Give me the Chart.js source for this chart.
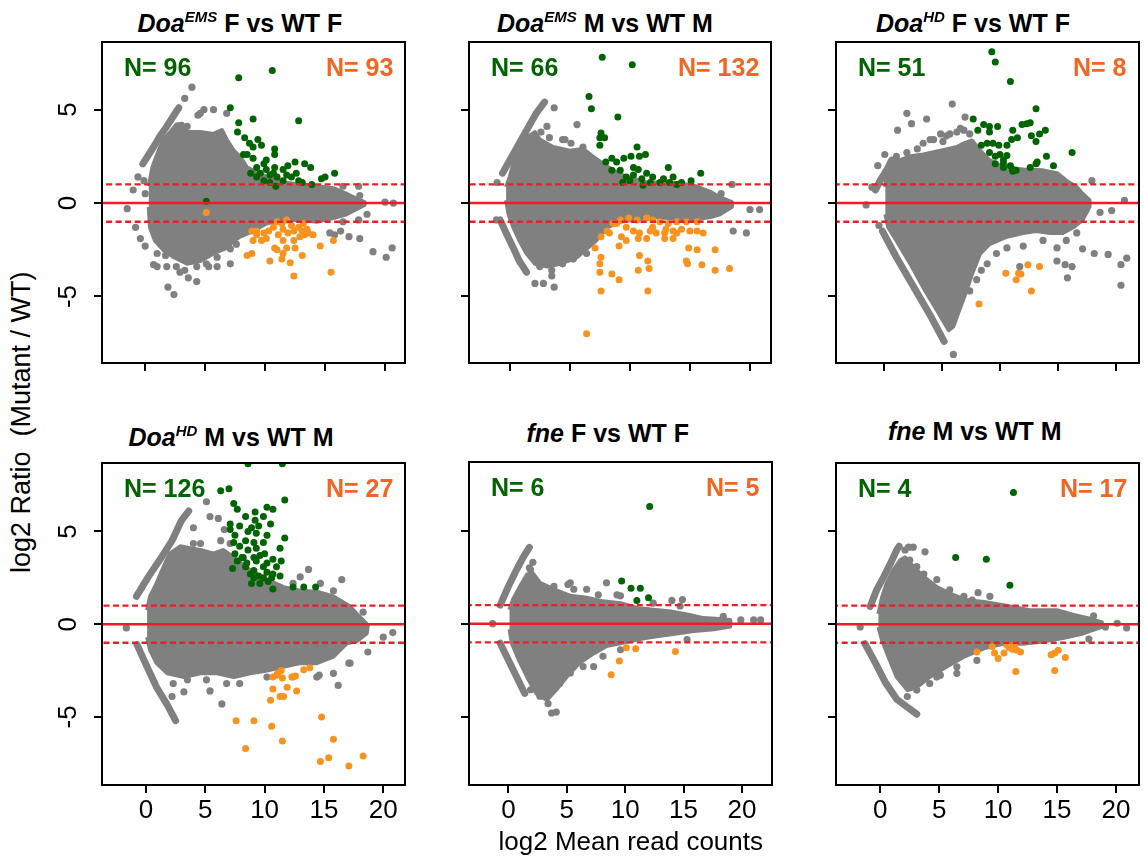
<!DOCTYPE html>
<html>
<head>
<meta charset="utf-8">
<script src="https://cdn.jsdelivr.net/npm/chart.js@4.4.1/dist/chart.umd.min.js"></script>
<style>
  body { margin: 0; background: #fff; width: 1144px; height: 858px; position: relative; overflow: hidden;
         font-family: "Liberation Sans", Arial, Helvetica, sans-serif; }
  .panel { position: absolute; }
  .ttl { position: absolute; font-weight: bold; font-size: 25px; line-height: 25px; white-space: nowrap; color: #000; }
  .ttl .sup { font-size: 15px; position: relative; top: -10px; font-style: italic; }
  .nlab { position: absolute; font-weight: bold; font-size: 25px; line-height: 25px; white-space: nowrap; }
  .axt { position: absolute; font-size: 26px; line-height: 26px; white-space: nowrap; color: #000; }
</style>
</head>
<body>
<script>
// ---- data ----
const xTicks = [0, 5, 10, 15, 20];
const yTicks = [-5, 0, 5];
const cutLines = [-1, 0, 1];
const genes = ['Doa', 'Doa', 'Doa', 'Doa', 'fne', 'fne'];
const alleles = ['EMS', 'EMS', 'HD', 'HD', '', ''];
const comparisons = ['F vs WT F', 'M vs WT M', 'F vs WT F', 'M vs WT M', 'F vs WT F', 'M vs WT M'];
const nUp = [96, 66, 51, 126, 6, 4];
const nDown = [93, 132, 8, 27, 5, 17];

// panel 1
const p1Top = [[0.3,0.9],[0.6,1.9],[1.0,2.6],[1.5,3.4],[2.1,3.8],[2.6,4.2],[3.1,4.25],[3.5,3.8],[4.6,3.8],[5.7,3.7],[6.4,3.9],[6.8,3.4],[7.4,2.8],[7.9,2.5],[8.5,1.9],[10.1,1.4],[11.5,1.1],[12.9,1.0],[14.3,0.9],[15.7,0.8],[16.8,0.5],[17.4,0.3],[18.3,0.05]];
const p1Bottom = [[18.3,-0.1],[16.8,-0.6],[15.7,-0.8],[14.3,-1.0],[12.9,-0.9],[11.5,-0.9],[10.1,-1.1],[9.0,-1.5],[7.9,-1.8],[7.4,-2.0],[6.8,-2.4],[5.7,-2.7],[4.6,-3.1],[3.5,-3.25],[2.4,-2.9],[1.5,-2.5],[0.8,-2.0],[0.4,-1.3],[0.3,-0.2]];
const p1StreakA = [[-0.2,2.1],[0.7,3.0],[1.25,3.6],[1.8,4.1],[2.4,4.7],[2.8,5.1]];
const p1StreakB = [];
const p1Gray = [[3.3,5.6],[3.9,6.2],[4.4,4.7],[4.9,5.0],[5.7,5.0],[6.8,4.8],[5.7,3.2],[-1.5,-0.3],[-0.8,-1.3],[-0.4,-1.9],[0,-2.3],[0.7,-3.3],[1.0,-3.4],[1.8,-3.4],[1.9,-4.5],[2.4,-4.9],[2.9,-3.7],[3.6,-4.0],[4.3,-4.2],[5.3,-3.4],[6.0,-3.4],[7.1,-3.25],[17.8,0.9],[17.9,0.4],[18.5,-0.6],[19.0,-2.6],[20.0,0.05],[20.7,0.0],[20.1,-2.9],[20.6,-2.4],[17.0,-1.8],[17.9,-1.9],[15.8,-1.7],[16.5,-1.0],[-1.0,0.7],[-0.6,1.4],[-0.1,1.2],[0,0.5],
  [4.6,4.8],[3.5,4.1],[4.2,3.5],[1.0,-2.7],[1.7,-2.8],[2.6,-3.4],[3.3,-3.6],[4.3,-3.4],[5.1,-3.25],[6.0,-2.9],[7.1,-2.45],[7.6,-2.2],[16.5,0.9],[17.1,0.1],[16.3,-1.5],[17.8,-0.9],[15.4,-1.6]];
const p1Green = [[7.8,6.7],[10.6,7.1],[7.1,5.1],[7.8,4.3],[9.0,4.5],[12.8,4.4],[7.7,3.8],[8.3,3.5],[8.7,3.2],[9.4,3.4],[9.7,3.1],[10.8,2.9],[10.8,2.6],[8.5,2.6],[8.2,2.6],[9.0,2.4],[9.9,2.1],[9.3,1.9],[10.1,1.8],[10.8,1.9],[11.5,1.8],[11.9,2.0],[12.5,2.2],[13.3,2.1],[13.8,1.9],[8.8,1.6],[9.6,1.6],[10.4,1.5],[11.0,1.4],[11.5,1.2],[12.2,1.4],[12.8,1.2],[13.1,1.1],[13.9,1.0],[14.7,1.3],[15.0,1.4],[15.8,1.6],[10.4,1.1],[10.9,0.9],[9.9,1.2],[9.3,1.4],[5.1,0.1],[10.1,2.3],[9.0,3.0],[10.7,1.6],[11.8,1.5],[12.6,1.6]];
const p1Orange = [[5.1,-0.5],[8.9,-1.5],[9.3,-1.7],[9.9,-1.6],[10.3,-1.5],[11.0,-1.0],[11.4,-1.1],[11.8,-0.9],[12.2,-1.2],[12.8,-1.3],[13.2,-1.1],[13.5,-1.4],[13.6,-1.6],[9.0,-2.0],[9.7,-2.0],[10.1,-1.9],[11.1,-1.7],[11.5,-2.0],[12.4,-2.0],[12.9,-1.8],[13.3,-1.7],[14.0,-1.7],[10.8,-2.4],[11.0,-2.5],[11.5,-2.7],[11.8,-2.4],[12.5,-2.4],[8.5,-2.8],[8.9,-2.7],[10.4,-3.1],[11.4,-3.0],[12.1,-3.2],[13.1,-2.8],[14.6,-2.3],[15.7,-2.0],[12.4,-3.9],[15.5,-3.7],[9.3,-1.5],[12.4,-1.5],[13.1,-1.5],[10.7,-1.3],[11.5,-1.4],[11.9,-1.6]];

// panel 2
const p2Top = [[-0.3,0.85],[0,1.4],[0.4,2.3],[0.8,3.0],[1.4,3.5],[2.1,3.8],[2.5,3.4],[3.6,3.0],[5.0,2.8],[6.1,2.9],[6.9,2.5],[7.8,2.1],[8.6,1.75],[9.7,1.4],[11.4,1.1],[13.3,1.1],[15.3,0.95],[16.7,0.6],[17.5,0.3],[18.5,0.05]];
const p2Bottom = [[18.5,-0.2],[17.5,-0.6],[16.7,-0.75],[15.3,-0.9],[11.9,-0.75],[9.2,-1.0],[8.1,-1.3],[7.2,-2.0],[6.4,-2.45],[5.6,-2.9],[4.2,-3.25],[3.1,-3.4],[2.1,-3.25],[1.4,-2.7],[0.8,-2.0],[0.3,-1.3],[-0.1,-0.6],[-0.3,0.15]];
const p2StreakA = [[-0.6,1.6],[0.1,2.4],[0.8,3.2],[1.5,4.0],[2.2,4.8],[2.9,5.4]];
const p2StreakB = [[-0.8,-0.9],[-0.3,-1.6],[0.3,-2.4],[0.8,-3.1],[1.4,-3.7]];
const p2Gray = [[5.6,4.2],[4.6,3.4],[6.1,3.0],[3.1,4.1],[3.7,5.1],[2.1,-4.3],[2.8,-4.3],[3.5,-3.9],[3.7,-4.5],[4.9,-3.0],[18.6,-1.5],[19.7,-1.6],[20.0,-0.35],[20.8,-0.35],[18.5,1.0],[17.6,0.5],[-1.05,1.1],[-1.1,-0.9],
  [2.5,-3.4],[3.5,-3.6],[4.4,-3.25],[5.3,-3.0],[6.4,-2.7],[4.4,3.4],[5.1,3.2],[6.4,2.6],[16.9,0.3],[2.6,3.8],[3.3,3.5]];
const p2Green = [[7.7,7.8],[10.2,7.4],[6.6,5.7],[6.8,5.05],[9.0,4.6],[7.6,3.75],[7.5,3.5],[7.9,3.5],[7.5,3.1],[10.6,3.0],[8.5,2.4],[9.5,2.4],[10.1,2.5],[10.8,2.5],[11.3,2.6],[8.0,2.2],[8.9,2.2],[10.3,1.9],[8.5,1.75],[9.2,1.75],[10.7,1.8],[11.4,1.6],[13.2,1.9],[15.9,1.6],[9.7,1.4],[10.3,1.5],[11.9,1.4],[12.8,1.3],[13.6,1.4],[14.3,1.1],[15.1,1.2],[11.1,0.95],[11.7,1.1],[12.5,1.1],[13.3,1.1],[13.9,1.0],[9.4,1.1],[10.0,1.2],[11.0,1.3]];
const p2Orange = [[8.6,-1.1],[9.2,-0.9],[9.9,-0.8],[10.6,-0.9],[11.4,-0.8],[11.9,-0.9],[12.5,-1.0],[13.2,-1.1],[13.9,-1.0],[14.7,-1.0],[15.6,-1.0],[8.1,-1.5],[7.6,-1.8],[7.1,-2.4],[8.3,-1.6],[9.3,-1.8],[10.3,-1.5],[10.8,-1.6],[11.7,-1.5],[12.2,-1.6],[12.9,-1.6],[13.6,-1.5],[14.3,-1.4],[15.0,-1.5],[15.6,-1.5],[16.1,-1.6],[9.7,-2.0],[10.7,-1.9],[11.4,-1.9],[12.9,-1.9],[13.6,-1.9],[9.1,-2.3],[14.9,-2.4],[15.6,-2.5],[17.1,-2.5],[7.6,-2.9],[10.8,-2.8],[7.5,-3.25],[11.5,-3.1],[11.6,-3.5],[14.7,-3.1],[14.8,-3.25],[16.0,-3.3],[7.5,-3.7],[8.5,-3.8],[9.1,-4.1],[10.7,-3.6],[17.1,-3.6],[18.3,-3.5],[7.6,-4.7],[11.5,-4.7],[6.4,-7.0],[8.9,-1.1],[9.7,-1.3],[11.9,-1.3],[13.0,-1.4],[13.9,-1.6]];

// panel 3
const p3Top = [[0.15,0.85],[0.3,1.9],[0.6,2.1],[1.4,2.3],[2.3,2.5],[3.4,2.6],[4.9,2.8],[6.3,3.0],[6.9,3.2],[7.6,3.35],[8.3,2.8],[9.1,2.3],[10.3,1.9],[12.0,1.8],[13.7,1.75],[14.9,1.6],[15.7,1.2],[16.6,0.85],[17.1,0.5],[17.7,0.15]];
const p3Bottom = [[17.7,-0.2],[17.1,-0.9],[16.3,-1.3],[15.4,-1.6],[14.3,-1.6],[13.1,-1.5],[12.0,-1.6],[10.6,-1.8],[9.1,-2.2],[8.3,-2.7],[7.6,-3.8],[7.0,-4.9],[6.4,-5.9],[6.0,-6.6],[5.6,-6.8],[4.6,-5.75],[3.4,-4.5],[2.3,-3.25],[1.1,-2.0],[0.4,-1.3],[0.15,-0.6]];
const p3StreakA = [[-0.7,0.7],[-0.3,1.2],[0.3,1.8],[0.7,2.3]];
const p3StreakB = [[-0.1,-1.5],[1.1,-2.9],[2.6,-4.5],[4.0,-6.0],[5.2,-7.4]];
const p3Gray = [[6.0,-8.1],[5.9,5.3],[2.0,4.8],[3.7,4.5],[7.0,4.6],[1.2,3.9],[2.4,4.25],[0.1,2.6],[-0.5,2.0],[-1.0,0.85],[-1.5,-0.1],[-0.4,-1.2],[17.1,-2.45],[18.1,-2.7],[19.3,-2.75],[20.9,-2.95],[20.4,-3.3],[20.4,-4.4],[15.6,-3.3],[16.2,-3.4],[15.8,-4.0],[14.9,-3.1],[18.6,-0.5],[19.6,-0.4],[20.7,0.15],[17.9,1.2],[11.7,-3.4],[8.0,-4.1],[7.4,-4.7],[5.1,3.3],[5.7,3.7],[4.0,3.4],[6.6,4.0],
  [3.4,3.2],[4.3,3.4],[4.9,3.7],[6.3,3.8],[6.9,3.9],[7.4,3.7],[5.4,3.6],[2.0,2.7],[1.1,2.5],[2.9,2.9],[13.7,-2.0],[14.9,-2.4],[15.7,-2.0],[16.6,-1.6],[12.0,-2.3],[10.6,-2.4],[9.7,-2.7],[8.9,-3.25],[8.4,-3.6]];
const p3Green = [[9.3,8.1],[9.6,7.55],[10.9,6.5],[13.1,5.05],[7.7,4.5],[8.6,4.2],[9.1,4.1],[9.8,4.1],[8.1,3.9],[9.1,3.8],[11.1,3.9],[11.9,4.2],[12.3,4.25],[12.6,4.3],[13.9,3.9],[12.7,3.6],[13.4,3.7],[13.1,3.3],[11.5,3.5],[11.0,3.4],[10.6,3.1],[8.4,3.1],[8.9,3.2],[9.4,3.2],[9.9,3.1],[9.1,2.7],[10.0,2.6],[10.6,2.55],[9.6,2.5],[10.3,2.3],[16.2,2.7],[14.0,2.5],[9.6,2.1],[10.3,2.1],[10.9,2.0],[13.2,2.2],[13.1,2.1],[14.6,2.0],[10.3,1.9],[11.1,1.8],[11.1,1.7],[11.4,1.75],[12.6,1.9]];
const p3Orange = [[12.4,-3.3],[13.4,-3.4],[10.5,-3.75],[11.6,-3.75],[11.8,-3.8],[11.4,-4.1],[12.7,-4.7],[8.2,-5.4]];

// panel 4
const p4Top = [[0.1,0.75],[0.35,1.5],[0.9,2.2],[1.5,3.1],[2.0,3.8],[2.9,4.2],[3.7,4.1],[4.6,4.0],[5.7,3.8],[6.5,4.0],[7.4,3.6],[8.8,2.9],[10.2,2.4],[11.6,2.0],[13.0,1.8],[14.4,1.75],[15.8,1.5],[17.2,0.95],[18.0,0.4],[18.7,-0.05]];
const p4Bottom = [[18.6,-0.5],[17.8,-0.9],[16.9,-1.05],[15.8,-1.75],[14.4,-2.1],[13.0,-2.1],[11.6,-2.3],[10.2,-2.5],[8.8,-2.65],[7.4,-2.85],[6.0,-2.65],[4.6,-2.65],[3.2,-2.85],[1.8,-2.65],[0.9,-2.1],[0.35,-1.4],[0.1,-0.7]];
const p4StreakA = [[-0.8,1.5],[0.2,2.55],[1.2,3.5],[2.2,4.5],[3.0,5.6],[3.6,6.1]];
const p4StreakB = [[-0.75,-1.1],[0.1,-2.3],[0.9,-3.4],[1.8,-4.35],[2.5,-5.2]];
const p4Gray = [[5.1,6.6],[-1.65,-0.2],[2.2,-3.9],[3.2,-3.65],[5.4,-3.6],[6.4,-4.3],[13.7,2.95],[16.5,2.4],[16.2,-3.3],[17.1,-2.1],[18.7,-1.5],[20.0,-0.7],[20.8,-0.45],[18.3,0.65],[14.6,-2.75],[5.4,5.8],[6.1,5.7],[7.1,4.35],[4.0,5.2],[6.6,5.1],
  [3.5,3.6],[4.6,4.35],[4.0,4.35],[6.3,4.5],[12.4,2.2],[13.0,2.55],[14.7,2.2],[15.8,1.8],[2.3,-3.2],[3.5,-3.0],[5.1,-3.0],[6.8,-3.2],[7.9,-3.2],[10.2,-2.85],[14.4,-2.85],[15.8,-2.65],[17.2,-2.1]];
const p4Green = [[8.6,8.65],[11.5,8.65],[6.3,7.2],[7.0,7.3],[11.7,6.7],[7.4,6.5],[7.7,6.2],[10.2,6.3],[10.7,6.2],[8.4,5.8],[9.2,6.05],[9.2,5.6],[9.9,5.8],[7.1,5.4],[7.9,5.3],[8.9,5.2],[9.5,5.3],[10.5,5.4],[7.1,5.1],[7.5,4.8],[8.6,5.0],[9.3,4.9],[10.2,4.8],[11.7,4.65],[7.4,4.4],[8.4,4.5],[9.1,4.4],[9.9,4.4],[7.9,4.2],[8.6,4.0],[9.3,4.1],[11.3,4.1],[7.5,3.8],[8.1,3.6],[9.1,3.6],[10.0,3.8],[10.7,3.5],[7.7,3.4],[8.5,3.3],[9.3,3.4],[10.2,3.3],[11.4,3.4],[7.3,3.0],[8.4,3.1],[9.1,2.9],[9.9,3.1],[11.0,3.1],[8.8,2.7],[9.5,2.6],[10.2,2.8],[10.7,2.7],[11.3,2.6],[9.1,2.5],[9.9,2.5],[10.6,2.5],[8.9,2.2],[9.6,2.2],[10.3,2.3],[10.7,1.9],[12.4,2.0],[13.3,2.0],[14.3,2.0],[8.2,3.6],[9.6,3.7]];
const p4Orange = [[10.7,-2.85],[11.1,-2.65],[11.4,-2.5],[11.5,-2.9],[12.4,-2.85],[12.6,-2.8],[13.3,-2.45],[13.8,-2.35],[10.7,-3.5],[11.9,-3.4],[12.7,-3.6],[10.5,-4.1],[11.3,-3.9],[11.6,-3.9],[7.6,-5.2],[9.1,-5.2],[10.6,-5.5],[14.8,-5.0],[8.4,-6.7],[11.5,-6.3],[15.8,-6.2],[14.7,-7.4],[15.4,-7.2],[17.1,-7.65],[18.3,-7.1],[11.0,-2.75],[12.3,-2.85]];

// panel 5
const p5Top = [[0.1,0.75],[0.4,1.3],[1.0,2.0],[1.6,2.65],[2.1,2.7],[2.7,2.2],[3.9,1.85],[5.3,1.5],[6.7,1.4],[8.1,1.2],[9.6,1.1],[11.0,0.85],[12.4,0.75],[13.9,0.65],[15.3,0.5],[16.7,0.3],[18.1,0.25],[19.0,0.2]];
const p5Bottom = [[19.0,-0.15],[17.6,-0.3],[15.9,-0.4],[14.1,-0.55],[12.4,-0.7],[11.0,-0.85],[9.6,-1.05],[8.4,-1.2],[7.3,-1.6],[6.1,-2.1],[5.0,-2.85],[4.1,-3.55],[3.3,-4.1],[2.4,-3.75],[1.6,-2.85],[0.9,-1.95],[0.3,-1.05],[0.1,-0.3]];
const p5StreakA = [[-0.7,1.0],[0,2.0],[0.7,2.9],[1.3,3.6],[1.8,4.1]];
const p5StreakB = [[-0.7,-1.05],[0,-1.95],[0.7,-2.85],[1.4,-3.75]];
const p5Gray = [[-1.35,0],[3.7,-4.8],[4.1,-4.75],[3.4,-4.3],[5.1,2.1],[5.6,1.85],[8.4,2.2],[7.7,1.55],[9.3,1.55],[14.0,1.25],[14.9,1.3],[18.4,0.4],[19.9,0.2],[21.0,0.2],[21.6,0.2],[7.3,-2.3],[15.3,-0.85],[4.7,-2.3],[2.1,3.3],[1.8,3.0],
  [1.9,-3.55],[2.7,-3.9],[4.4,-3.2],[5.3,-2.65],[6.4,-2.3],[8.1,-1.75],[9.6,-1.4],[1.9,2.9],[3.9,2.0],[5.3,2.2],[6.7,1.85],[9.6,1.5],[12.4,1.1],[14.7,0.95]];
const p5Green = [[12.1,6.3],[9.7,2.3],[10.5,1.9],[11.3,1.9],[11.0,1.25],[12.0,1.4]];
const p5Orange = [[10.1,-1.3],[10.9,-1.35],[9.5,-2.0],[8.8,-2.75],[14.3,-1.5]];

// panel 6
const p6Top = [[-0.15,0.55],[0.15,1.45],[0.55,2.2],[1.1,2.9],[1.7,3.45],[2.1,3.6],[2.8,3.1],[3.7,2.55],[4.8,2.0],[5.9,1.65],[7.3,1.3],[8.8,1.2],[10.7,1.0],[12.7,0.75],[15.0,0.75],[16.4,0.5],[17.8,0.3],[18.8,0.1]];
const p6Bottom = [[18.8,-0.15],[17.2,-0.5],[15.5,-0.75],[13.6,-0.95],[12.1,-1.05],[10.5,-1.05],[8.8,-1.3],[7.1,-1.75],[5.6,-2.3],[4.2,-2.85],[3.1,-3.4],[2.3,-3.55],[1.4,-2.85],[0.7,-1.75],[0.15,-0.85],[-0.15,-0.15]];
const p6StreakA = [[-0.85,0.95],[-0.3,1.85],[0.3,2.55],[0.85,3.25],[1.4,4.0],[1.6,4.2]];
const p6StreakB = [[-1.3,-1.05],[-0.4,-2.1],[0.4,-3.1],[1.4,-4.05],[2.25,-4.45],[3.1,-4.85]];
const p6Gray = [[-1.7,-0.15],[2.4,4.15],[2.8,4.15],[3.8,3.9],[7.1,1.5],[8.3,1.7],[7.8,1.3],[18.1,0.45],[19.1,-0.15],[20.1,0.05],[20.9,-0.2],[17.7,-0.8],[6.5,-2.65],[4.8,-2.85],
  [2.1,4.0],[2.5,3.45],[3.1,3.1],[3.7,2.7],[4.8,2.4],[5.9,1.85],[9.3,1.5],[2.3,-3.9],[3.1,-3.55],[4.2,-3.2],[5.1,-2.75],[6.5,-2.3],[8.2,-1.95]];
const p6Green = [[11.3,7.1],[6.4,3.6],[9.0,3.5],[11.0,2.1]];
const p6Orange = [[8.2,-1.5],[9.5,-1.2],[10.0,-1.85],[10.5,-1.55],[10.7,-1.1],[11.2,-1.35],[11.4,-1.1],[11.6,-1.4],[11.9,-1.5],[11.5,-2.55],[14.5,-1.65],[14.8,-1.55],[15.1,-1.4],[15.7,-1.8],[14.8,-2.5],[9.7,-1.55],[10.9,-1.25]];

// ---- layout ----
const FONT = '"Liberation Sans", Arial, Helvetica, sans-serif';
const GRAY = '#808080', GREEN = '#006400', ORANGE = '#F8931F', NORANGE = '#F26522', RED = '#EE1C25';

const panels = [
  {box: [102, 42, 303, 321], x: [-3.6, 21.67], y: [-8.56, 8.62], titleX: 240, titleBase: 32,
   top: p1Top, bottom: p1Bottom, streaks: [p1StreakA, p1StreakB], gray: p1Gray, green: p1Green, orange: p1Orange, xLab: false, yLab: true},
  {box: [469, 42, 302, 321], x: [-3.39, 21.75], y: [-8.56, 8.62], titleX: 605, titleBase: 31.5,
   top: p2Top, bottom: p2Bottom, streaks: [p2StreakA, p2StreakB], gray: p2Gray, green: p2Green, orange: p2Orange, xLab: false, yLab: false},
  {box: [836, 42, 303, 321], x: [-4.09, 21.95], y: [-8.56, 8.62], titleX: 973, titleBase: 31.5,
   top: p3Top, bottom: p3Bottom, streaks: [p3StreakA, p3StreakB], gray: p3Gray, green: p3Green, orange: p3Orange, xLab: false, yLab: false},
  {box: [102, 463, 303, 322], x: [-3.7, 21.83], y: [-8.67, 8.69], titleX: 231, titleBase: 446,
   top: p4Top, bottom: p4Bottom, streaks: [p4StreakA, p4StreakB], gray: p4Gray, green: p4Green, orange: p4Orange, xLab: true, yLab: true},
  {box: [469, 462, 303, 323], x: [-3.37, 22.57], y: [-8.67, 8.69], titleX: 608, titleBase: 442,
   top: p5Top, bottom: p5Bottom, streaks: [p5StreakA, p5StreakB], gray: p5Gray, green: p5Green, orange: p5Orange, xLab: true, yLab: false},
  {box: [836, 463, 303, 322], x: [-3.75, 21.95], y: [-8.67, 8.69], titleX: 975, titleBase: 440,
   top: p6Top, bottom: p6Bottom, streaks: [p6StreakA, p6StreakB], gray: p6Gray, green: p6Green, orange: p6Orange, xLab: true, yLab: false}
];

function pts(a) { return a.map(p => ({x: p[0], y: p[1]})); }

function addText(cls, html, css) {
  const d = document.createElement('div');
  d.className = cls;
  d.innerHTML = html;
  Object.assign(d.style, css);
  document.body.appendChild(d);
  return d;
}

function fixFit(size, prop) {
  return function(s) {
    s[prop] = size;
    s.paddingLeft = s.paddingRight = s.paddingTop = s.paddingBottom = 0;
  };
}

function makePanel(p, i) {
  const [bl, bt, bw, bh] = p.box;
  const W = bw + 64, H = bh + 52;
  const wrap = document.createElement('div');
  wrap.className = 'panel';
  wrap.style.left = (bl - 60) + 'px';
  wrap.style.top = (bt - 2) + 'px';
  wrap.style.width = W + 'px';
  wrap.style.height = H + 'px';
  const cv = document.createElement('canvas');
  cv.width = W; cv.height = H;
  cv.style.width = W + 'px'; cv.style.height = H + 'px';
  wrap.appendChild(cv);
  document.body.appendChild(wrap);

  const ds = [];
  cutLines.forEach(v => ds.push({
    data: [{x: -50, y: v}, {x: 50, y: v}], showLine: true, borderColor: RED,
    borderWidth: v === 0 ? 2.5 : 2.3, borderDash: v === 0 ? [] : [6, 3.5], pointRadius: 0, clip: 0
  }));
  ds.push({data: pts(p.orange), pointRadius: 3.5, backgroundColor: ORANGE, borderWidth: 0, clip: 0});
  ds.push({data: pts(p.green), pointRadius: 3.5, backgroundColor: GREEN, borderWidth: 0, clip: 0});
  ds.push({data: pts(p.gray), pointRadius: 3.6, backgroundColor: GRAY, borderWidth: 0, clip: 0});
  p.streaks.forEach(s => ds.push({
    data: pts(s), showLine: true, borderColor: GRAY, borderWidth: 7,
    borderCapStyle: 'round', borderJoinStyle: 'round', pointRadius: 0, clip: 0
  }));
  ds.push({
    data: pts(p.top.concat(p.bottom)), showLine: true, fill: 'shape',
    backgroundColor: GRAY, borderColor: GRAY, borderWidth: 4, borderJoinStyle: 'round', pointRadius: 0, clip: 0
  });

  const tickFont = {family: FONT, size: 26};
  new Chart(cv, {
    type: 'scatter',
    data: {datasets: ds},
    options: {
      responsive: false, animation: false, events: [],
      layout: {padding: {top: 2, right: 4, left: 0, bottom: 0}, autoPadding: false},
      plugins: {legend: {display: false}, tooltip: {enabled: false}},
      scales: {
        x: {
          type: 'linear', position: 'bottom', min: p.x[0], max: p.x[1],
          afterBuildTicks: s => { s.ticks = xTicks.map(v => ({value: v})); },
          afterFit: fixFit(50, 'height'),
          grid: {drawOnChartArea: false, drawTicks: true, tickLength: 8, color: '#000', lineWidth: 2},
          border: {display: true, color: '#000', width: 2, z: 1},
          ticks: {font: tickFont, color: '#000', padding: 2, maxRotation: 0, minRotation: 0, autoSkip: false,
                  callback: v => p.xLab ? String(v) : ''}
        },
        y: {
          type: 'linear', position: 'left', min: p.y[0], max: p.y[1],
          afterBuildTicks: s => { s.ticks = yTicks.map(v => ({value: v})); },
          afterFit: fixFit(60, 'width'),
          grid: {drawOnChartArea: false, drawTicks: true, tickLength: 8, color: '#000', lineWidth: 2},
          border: {display: true, color: '#000', width: 2, z: 1},
          ticks: {font: tickFont, color: '#000', padding: 14, minRotation: 90, maxRotation: 90,
                  crossAlign: 'center', autoSkip: false,
                  callback: v => p.yLab ? String(v) : ''}
        },
        xTop: {
          type: 'linear', axis: 'x', position: 'top', min: 0, max: 1,
          afterFit: fixFit(0, 'height'),
          grid: {display: false}, ticks: {display: false},
          border: {display: true, color: '#000', width: 2, z: 1}
        },
        yRight: {
          type: 'linear', axis: 'y', position: 'right', min: 0, max: 1,
          afterFit: fixFit(0, 'width'),
          grid: {display: false}, ticks: {display: false},
          border: {display: true, color: '#000', width: 2, z: 1}
        }
      }
    }
  });

  // title
  const sup = alleles[i] ? '<span class="sup">' + alleles[i] + '</span>' : '';
  const t = addText('ttl', '<i>' + genes[i] + '</i>' + sup + ' ' + comparisons[i],
                    {top: (p.titleBase - 21) + 'px', left: '0px'});
  t.style.left = (p.titleX - t.offsetWidth / 2) + 'px';

  // counts
  addText('nlab', 'N= ' + nUp[i], {color: GREEN, left: (bl + 22) + 'px', top: (bt + 33.5 - 21) + 'px'});
  const r = addText('nlab', 'N= ' + nDown[i], {color: NORANGE, top: (bt + 33.5 - 21) + 'px', left: '0px'});
  r.style.left = (bl + bw - 12 - r.offsetWidth) + 'px';
}

panels.forEach(makePanel);

// axis titles
const xt = addText('axt', 'log2 Mean read counts', {top: (850 - 22) + 'px', left: '0px'});
xt.style.left = (631 - xt.offsetWidth / 2) + 'px';
addText('axt', 'log2 Ratio&nbsp;&nbsp;(Mutant / WT)',
        {left: '8px', top: '573px', fontSize: '27px', lineHeight: '27px', transformOrigin: '0 0', transform: 'rotate(-90deg)'});
</script>
</body>
</html>
